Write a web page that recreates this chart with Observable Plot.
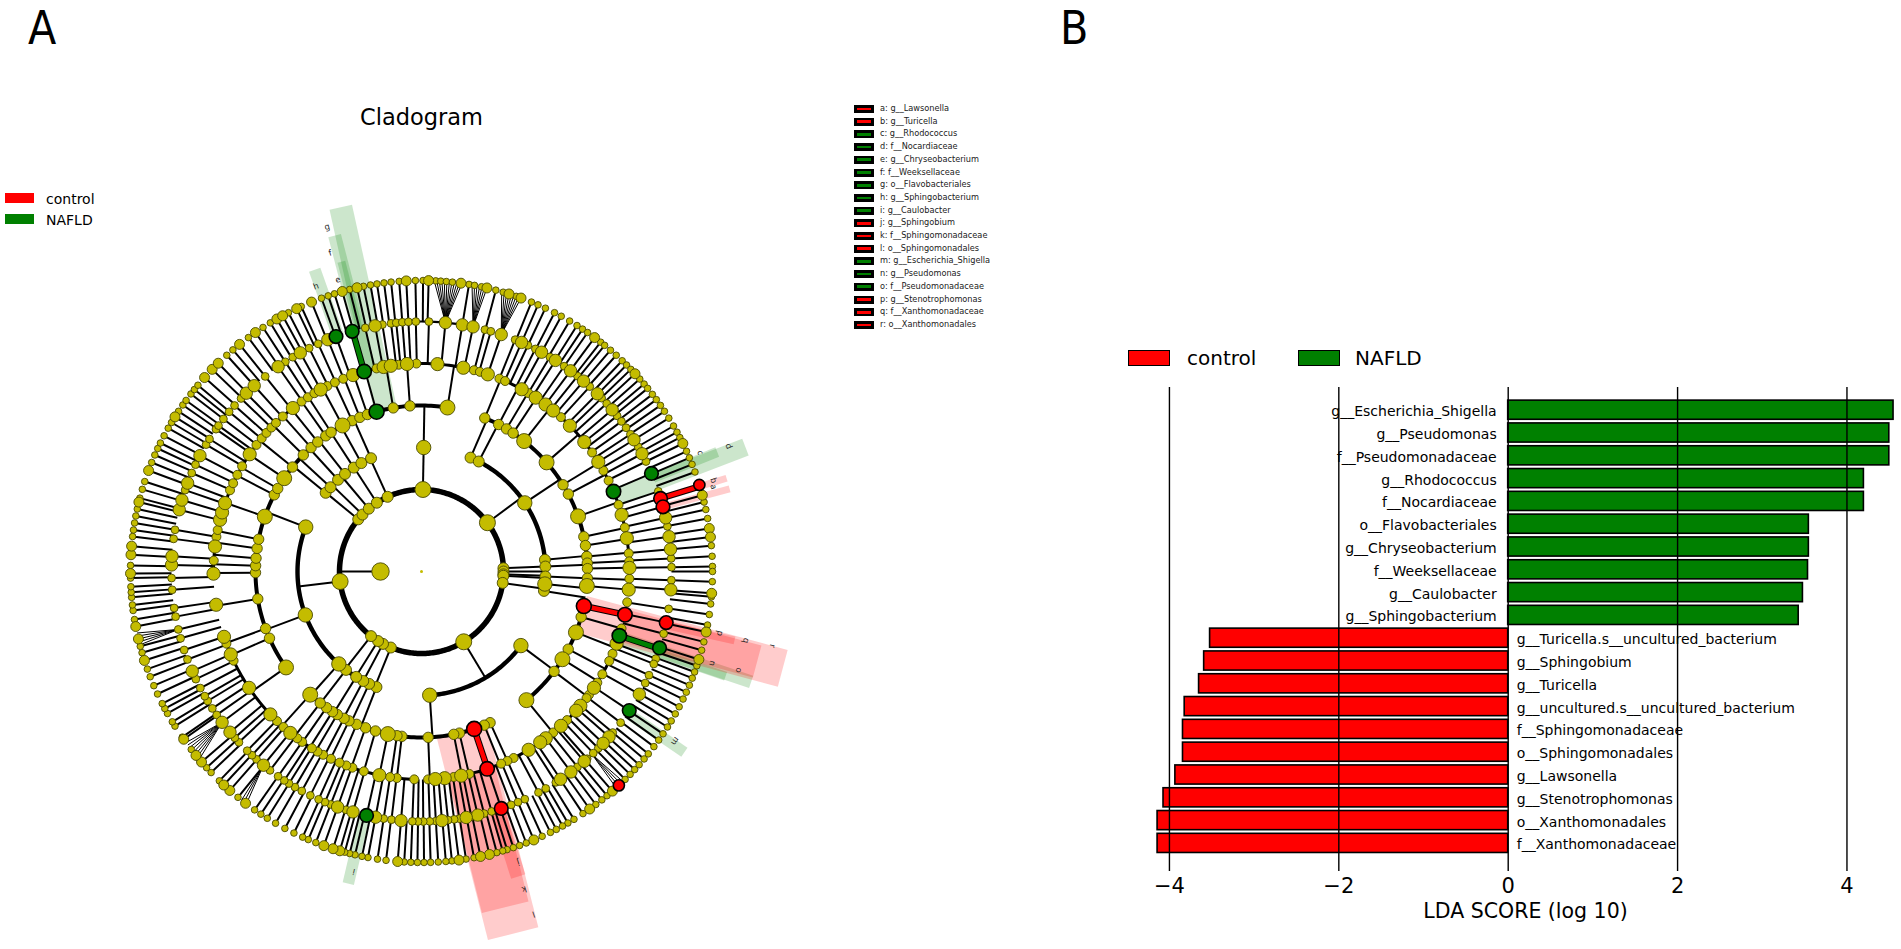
<!DOCTYPE html>
<html><head><meta charset="utf-8">
<style>
html,body{margin:0;padding:0;background:#fff;overflow:hidden}
body{width:1901px;height:949px;position:relative;font-family:"DejaVu Sans",sans-serif;color:#000}
.abs{position:absolute;white-space:nowrap;line-height:1.2}
#clade,#bars{position:absolute;top:0}
</style>
<script src="https://cdn.jsdelivr.net/npm/d3@7"></script>
<script src="https://cdn.jsdelivr.net/npm/@observablehq/plot@0.6"></script>
</head><body>
<div id="clade"></div><div id="bars"></div>
<script>
// ---------- panel B values ----------
const taxa = ["g__Escherichia_Shigella","g__Pseudomonas","f__Pseudomonadaceae","g__Rhodococcus","f__Nocardiaceae","o__Flavobacteriales","g__Chryseobacterium","f__Weeksellaceae","g__Caulobacter","g__Sphingobacterium","g__Turicella.s__uncultured_bacterium","g__Sphingobium","g__Turicella","g__uncultured.s__uncultured_bacterium","f__Sphingomonadaceae","o__Sphingomonadales","g__Lawsonella","g__Stenotrophomonas","o__Xanthomonadales","f__Xanthomonadaceae"];
const lda = [4.55,4.50,4.50,4.20,4.20,3.55,3.55,3.54,3.48,3.43,-3.52,-3.59,-3.65,-3.82,-3.84,-3.84,-3.93,-4.07,-4.14,-4.14];
const ldaTicks = [-4,-2,0,2,4];
const classes = ["control","NAFLD"];
const classColors = ["#ff0000","#008000"];

// ---------- panel A values: node angles (degrees clockwise from north) per ring ----------
const ringRadii = [41,82,124,166,208,250,291];
const ring0 = [270];
const ring1 = [1,53.5,87.7,90,92,93,98,149,202,208,212,218,263,309.5,314,320,327,335.6];
const ring1Large = [1,53.5,149,263];
const ring2 = [1,23.3,27.5,56.4,84.6,87.7,92.3,95.8,99,126.7,176.2,201.3,205,208,211.8,217.5,221.8,249.5,291,309.4,312.8,317.7,321.9,326.9,331,336];
const ring2Large = [1,56.4,95.8,126.7,176.2,221.8,249.5,291];
const ring3 = [9,22.4,27.7,30.8,33.5,38.2,48.9,58.5,62.2,70.6,77.9,81,84.8,87.1,89,92.3,95,102,105.9,111.5,117.9,121.9,127,140.8,155.6,157.8,161.5,166.8,168.8,177.7,186.8,188.5,191.7,196.1,199.7,203,205.9,207.8,210.5,212.4,214.9,217.6,222.1,234.7,246.3,249.9,260.5,269.6,272,274.6,278,281.2,289.3,297.5,300,304.2,309,314.6,318.3,321.3,324.8,327,331.6,335.3,338.2,341,344.3,350.2,356];
const ring3Large = [9,38.2,48.9,70.6,95,111.5,121.9,140.8,191.7,222.1,234.7,289.3,304.2,331.6];
const ring4 = [4.4,11.6,14.6,16.3,18.6,22,23.7,28.8,30.9,33.3,36.6,39.3,42.1,45.5,51.5,55.1,58.2,61,64.1,67.4,71.3,74.2,77.8,80.8,85,87.2,89,92,95,98.5,102,105.9,108,110.3,113.3,115.5,119.6,122.3,124,126.4,127.5,130.2,132,135.6,137.9,140.7,143.3,145.2,149,153.7,155.6,157.5,161.6,166.7,169,171.1,173.6,176.2,178.2,182,186.8,188.7,191.7,196.1,199.4,201.2,203.2,205.8,208.2,210,211.8,215,216.7,219.1,221.6,224,226.6,236,244.6,246.5,249.7,251.7,260.8,269.4,273,276.9,279.6,281.5,284.4,286.5,289.2,293,295.1,297.7,300.4,304.3,307.5,309.8,311.8,313.8,315.6,318.2,321.8,324.8,326.9,329,331,333.1,335.4,337.9,340.8,344,347.5,349.5,351.5,353.7,356,358.6];
const ring4Large = [4.4,11.6,18.6,28.8,33.3,36.6,39.3,45.5,51.5,58.2,74.2,80.8,89,95,110.3,124,130.2,132,137.9,143.3,145.2,149,169,173.6,176.2,191.7,219.1,226.6,236,246.5,251.7,260.8,269.4,276.9,284.4,286.5,289.2,304.3,321.8,331,340.8,349.5,351.5,356];
const ring5 = [1.7,5.5,9.4,11.9,14.7,16.1,18.6,22,23.6,25.2,27.1,28.7,30.9,32.4,34.8,36.6,38.6,40.4,42.3,44.7,46.1,47.8,49.7,51.5,53.1,54.9,56.7,58.2,60.1,61.9,63.9,66.9,71.3,73,75,77.6,79.6,82,84.9,87,89,92,94.2,98.6,101.8,104.4,107.8,110.4,111.7,114.5,116.5,119.4,123.8,127.2,130.1,131.4,133.4,135,136.6,138.5,139.4,141.4,143.3,146.2,147.5,150.2,152.1,155.6,157.3,159,161.4,163.7,165.5,167,168.5,169.7,171.3,172.5,173.9,175.3,176.7,178.1,179.6,180.8,182.1,184.7,186.9,188.7,190.6,192.7,195.9,197.6,199.6,201.3,202.7,204.3,206.4,208.6,210.4,212,213.3,215,217.3,219.2,221.3,222.7,224.2,226.9,228.3,230,232.9,235,236.8,238.8,240.1,242.2,244.5,246.5,249.4,251.7,254.5,256.6,259.6,261.6,265.8,268.5,271.5,273.5,277.5,279.6,284.3,286.6,289,290.7,293.2,295.3,297.6,300.5,302,304.7,305.7,307.6,309.7,311.6,313.8,315.5,318,321.3,325,327,329,331,333.3,335.6,338,340,343.9,347,349.3,351,353,354.2,355.6,357,358.7];
const ring5Large = [5.5,9.4,11.9,18.6,23.6,28.7,32.4,36.6,40.4,44.7,49.7,58.2,61.9,66.9,77.6,82,84.9,94.2,107.8,119.4,123.8,131.4,133.4,139.4,143.3,146.2,167,169.7,175.3,184.7,190.6,195.9,199.6,219.2,230,232.9,246.5,271.5,273.5,284.3,286.6,290.7,297.6,315.5,318,325,331,338,343.9,349.3];
const ring6 = [0.3,1.4,2.8,3.8,4.9,6.1,7.8,9.4,10.5,11.9,13,14.8,16.3,17.5,19,20,22.2,23.6,25.2,27.2,28.7,30.6,32.3,33.6,34.8,36.5,38,39,40.5,42,43.6,44.8,46,47.2,48.6,49.9,51,52.5,53.8,55.2,56.6,58.2,60,61.4,62.6,63.9,65.6,67,68.4,70,72.7,74.8,76.2,77.7,79.5,81.5,83.2,84.9,87,89,90,92,94.3,95,96.4,98.5,100.6,102,104,105.7,107.6,108.9,110.2,111.5,113,114.5,116,117.7,119.3,120.9,122.3,123.9,125.4,127,128.8,130.1,131.6,132.9,134.2,135.6,137.3,139,140.4,141.7,143.2,144.7,146.3,148.4,149.8,151,152.4,153.7,155.5,157.3,158.9,160.3,161.6,162.9,163.8,165,166.5,168.3,169.6,171.2,172.6,174,175.2,176.7,178.2,179.5,180.8,182.1,183.4,184.7,187,188.7,190.6,191.8,193.2,194.3,195.3,196.3,197.7,199.6,201.3,202.9,204.1,206,208,210.1,212,213.5,215,217.2,219.1,221.2,222.8,224,226.3,227.6,229.1,230.8,232.3,234.8,235.3,237.9,238.9,240.8,241.9,243,245.1,246.9,248.8,250.4,252.2,253.8,255.1,256.6,259.1,260.5,262.3,263.4,264.9,265.9,267,268.7,269.6,271.2,273.3,275,276.9,278.2,279.6,281,282.4,283.8,284.6,286.4,288,290.3,292,293.6,295,296.2,297.8,299.5,300.8,302.1,303.4,304.9,306,307.6,308.7,309.8,311.8,314,315.7,318,319.6,321.3,323.5,325.2,327,328.7,330.2,331.5,332.8,334.6,335.6,337.8,339.9,341.3,342.6,344.2,345.7,347.2,348.5,349.9,351.2,352.6,354,355.6,357,358.8];
const ring6Large = [1.4,7.8,13,17.5,20,36.5,47.2,63.9,72.7,74.8,81.5,83.2,94.3,102,107.6,139,144.7,157.3,166.5,168.3,172.6,184.7,196.3,197.7,199.6,217.2,221.2,222.8,229.1,230.8,234.8,252.2,256.6,259.1,269.6,273.3,275,283.8,290.3,302.1,311.8,314,315.7,321.3,325.2,330.2,331.5,334.6,337.8,344.2,347.2,357];
const rings = [ring0,ring1,ring2,ring3,ring4,ring5,ring6];
const ringsLarge = [ring0,ring1Large,ring2Large,ring3Large,ring4Large,ring5Large,ring6Large];
const ringDotSmall = [8.7,5.5,5.5,5.2,4.5,3.9,3.3];
const ringDotLarge = [8.7,8,7.2,7.5,6.6,6.2,5];

// sibling arcs: ring, first angle, last angle
const arcs = [[1,0,360],[2,23.3,99],[2,126.7,176.2],[2,201.3,291],[2,309.4,336],[3,22.4,95],[3,105.9,140.8],[3,155.6,222.1],[3,234.7,344.3],[3,344.3,369],[4,-1.4,18.6],[4,22,96],[4,105,178],[4,182,252],[4,269,358],[5,-5,11.9]];
const arcWidths = [0,5.5,4.4,4,3,2.2];

// fans of thin branches from a genus node to its species
const fanParents = [5.5,11.9,18.6,232.9,256.6,137,219.2];
const fanTips = [[2.5,3,3.5,4,4.5,5,5.5,6,6.5,7,7.5,8],[10,10.5,11,11.5,12,12.5,13],[16,16.5,17,17.5,18,18.5,19,19.5,20],[229.8,230.4,231,231.6,232.2,232.8,233.4,234],[255.4,256,256.6,257.2,257.8],[136.2,136.8,137.4,138],[217,217.6,218.2]];

// highlighted clades
const cladeLetters = ["a","b","c","d","e","f","g","h","i","j","k","l","m","n","o","p","q","r"];
const cladeNames = ["g__Lawsonella","g__Turicella","g__Rhodococcus","f__Nocardiaceae","g__Chryseobacterium","f__Weeksellaceae","o__Flavobacteriales","g__Sphingobacterium","g__Caulobacter","g__Sphingobium","f__Sphingomonadaceae","o__Sphingomonadales","g__Escherichia_Shigella","g__Pseudomonas","f__Pseudomonadaceae","g__Stenotrophomonas","f__Xanthomonadaceae","o__Xanthomonadales"];
const cladeClass = [0,0,1,1,1,1,1,1,1,0,0,0,1,1,1,0,0,0];
const stripAngle = [75,73,68,69,345.5,345.5,347.5,340.5,193.2,162.4,166,165.8,124.5,109,108.5,102.4,105,105];
const stripInner = [250,250,250,208,250,208,166,250,250,250,208,166,250,250,208,250,208,166];
const stripOuter = [319,319,319,347,320,347,373,320,320.6,320,346,373.6,319,321.6,347.6,320.5,347.5,374];
const stripWidth = [7,7,10,18,8,13,23,12,11.5,15,48,52,11,9,13,8,33,38];
const letterAngle = [73.8,72.7,66.9,67.8,344,344,344.7,339.7,192.7,161.6,162.1,161.9,123.8,107.5,107.3,101.7,102,102];
const letterRadius = [304,306,303,332,303.5,331.5,357.5,304,307.7,307,334,360.6,305,305,332.5,305,332,359];

const redNodes = [[3,102],[3,161.5],[4,102],[4,161.6],[5,73],[5,75],[5,101.8],[5,161.4],[6,72.7],[6,137.3]];
const greenNodes = [[3,344.3],[4,67.4],[4,108],[4,344],[5,66.9],[5,107.8],[5,123.8],[5,192.7],[5,340],[5,343.9]];
const redBranches = [[102,3,4],[161.5,3,4],[73,5,6]];
const greenBranches = [[108,4,5],[344,4,5]];

// ---------- polar helpers ----------
const px = (r,a) => r*Math.sin(a*Math.PI/180);
const py = (r,a) => r*Math.cos(a*Math.PI/180);

const cW = 830, cH = 949, cx = 421, cy = 571;
const strips = cladeLetters.map((l,i)=>({l,a:stripAngle[i],r1:stripInner[i],r2:stripOuter[i],w:stripWidth[i],c:cladeClass[i],la:letterAngle[i],lr:letterRadius[i]}));
const spokes = [];
// inner rings: each node sends one branch out to the sibling arc of its children
for (let k=0;k<=3;k++) for (const a of rings[k]) spokes.push({a,r1:ringRadii[k],r2:ringRadii[k+1]});
// outer rings are chains: each node carries its own branch back to the ring inside it
const inFan = a => fanTips.some(t=>a>=d3.min(t)-0.2 && a<=d3.max(t)+0.2);
for (const a of ring5) spokes.push({a,r1:ringRadii[4],r2:ringRadii[5]});
for (const a of ring6) if(!inFan(a)) spokes.push({a,r1:ringRadii[5],r2:ringRadii[6]});
const arcPts = [];
arcs.forEach(([k,a1,a2],id)=>{ for(let a=a1;;a=Math.min(a+1,a2)){arcPts.push({id,a,r:ringRadii[k],w:arcWidths[k]}); if(a>=a2)break;} });
const fanLinks = [];
fanParents.forEach((a,i)=>fanTips[i].forEach(t=>fanLinks.push({a,t})));

const colorOf = c => classColors[c];
const dotMarks = [];
for (let k=rings.length-1;k>=0;k--){
  const large = new Set(ringsLarge[k]);
  const small = rings[k].filter(a=>!large.has(a));
  const big = rings[k].filter(a=>large.has(a));
  const opts = r => ({x:a=>px(ringRadii[k],a),y:a=>py(ringRadii[k],a),r,fill:"#c4bc00",stroke:"#4a4a00",strokeWidth:0.9});
  dotMarks.push(Plot.dot(small,opts(ringDotSmall[k])));
  dotMarks.push(Plot.dot(big,opts(ringDotLarge[k])));
}
const colorDotR = [0,0,0,7.5,7.2,6.8,5.6];
const colored = (list,color)=>Plot.dot(list,{x:d=>px(ringRadii[d[0]],d[1]),y:d=>py(ringRadii[d[0]],d[1]),r:d=>colorDotR[d[0]],fill:color,stroke:"#000",strokeWidth:1.6});
const branch = (list,color,w)=>Plot.link(list,{x1:d=>px(ringRadii[d[1]],d[0]),y1:d=>py(ringRadii[d[1]],d[0]),x2:d=>px(ringRadii[d[2]],d[0]),y2:d=>py(ringRadii[d[2]],d[0]),stroke:color,strokeWidth:w});

const clade = Plot.plot({
  width:cW,height:cH,margin:0,
  x:{axis:null,domain:[-cx,cW-cx],range:[0,cW]},
  y:{axis:null,domain:[cy,cy-cH],range:[0,cH]},
  r:{type:"identity"},
  marks:[
    Plot.link(strips,{x1:d=>px(d.r1,d.a),y1:d=>py(d.r1,d.a),x2:d=>px(d.r2,d.a),y2:d=>py(d.r2,d.a),stroke:d=>colorOf(d.c),strokeOpacity:0.2,strokeWidth:"w"}),
    Plot.text(strips,{x:d=>px(d.lr,d.la),y:d=>py(d.lr,d.la),text:"l",rotate:"la",fontSize:8.5,fill:"#222"}),
    Plot.link(spokes,{x1:d=>px(d.r1,d.a),y1:d=>py(d.r1,d.a),x2:d=>px(d.r2,d.a),y2:d=>py(d.r2,d.a),stroke:"#000",strokeWidth:2}),
    Plot.link(fanLinks,{x1:d=>px(ringRadii[5],d.a),y1:d=>py(ringRadii[5],d.a),x2:d=>px(ringRadii[6],d.t),y2:d=>py(ringRadii[6],d.t),stroke:"#000",strokeWidth:1}),
    Plot.line(arcPts,{x:d=>px(d.r,d.a),y:d=>py(d.r,d.a),z:"id",stroke:"#000",strokeWidth:"w",curve:"linear"}),
    branch(redBranches,"#000",6.5),branch(greenBranches,"#000",6.5),
    branch(redBranches,"#ff0000",4.5),branch(greenBranches,"#008000",4.5),
    ...dotMarks,
    Plot.dot([0],{x:()=>0,y:()=>0,r:1.5,fill:"#c4bc00"}),
    colored(redNodes,"#ff0000"),colored(greenNodes,"#008000")
  ]
});
document.getElementById("clade").append(clade);
document.getElementById("clade").style.left="0px";

// ---------- panel B chart ----------
const bL = 1120, bT = 340, bW = 781, bH = 609, x0 = 1507.7, unit = 84.69;
const rows = taxa.map((t,i)=>({t,v:lda[i],c:lda[i]>=0?1:0}));
const bars = Plot.plot({
  width:bW,height:bH,marginLeft:0,marginRight:0,marginTop:47,marginBottom:78,
  style:{fontFamily:'"DejaVu Sans",sans-serif',background:"transparent",overflow:"visible"},
  x:{domain:[(bL-x0)/unit,(bL+bW-x0)/unit],range:[0,bW],label:null},
  y:{domain:taxa,range:[58.3,514.3],round:false,paddingInner:0.16,paddingOuter:0.08,axis:null},
  marks:[
    Plot.barX(rows,{x1:0,x2:"v",y:"t",fill:d=>colorOf(d.c),stroke:"#000",strokeWidth:1.6}),
    Plot.ruleX(ldaTicks,{stroke:"#000",strokeWidth:1.4}),
    Plot.text(rows.filter(d=>d.v>=0),{x:0,y:"t",text:"t",textAnchor:"end",dx:-11.5,dy:1.5,fontSize:14,fill:"#000"}),
    Plot.text(rows.filter(d=>d.v<0),{x:0,y:"t",text:"t",textAnchor:"start",dx:8.5,dy:1.5,fontSize:14,fill:"#000"}),
    Plot.axisX({ticks:ldaTicks,tickSize:0,tickPadding:7,fontSize:21,tickFormat:d=>d<0?"\u2212"+(-d):String(d),label:null,anchor:"bottom"}),
    Plot.text(["LDA SCORE (log 10)"],{frameAnchor:"bottom",dx:14.5,dy:46,text:d=>d,fontSize:20.5,fill:"#000"})
  ]
});
const barsHost = document.getElementById("bars");
barsHost.style.left = bL+"px"; barsHost.style.top = bT+"px";
barsHost.append(bars);

// ---------- text, legends ----------
function label(txt,left,top,size,extra){
  const d=document.createElement("div");d.className="abs";d.textContent=txt;
  d.style.cssText+=`left:${left}px;top:${top}px;font-size:${size}px;`+(extra||"");
  document.body.append(d);return d;
}
function box(left,top,w,h,fill,border){
  const d=document.createElement("div");d.style.cssText=`position:absolute;left:${left}px;top:${top}px;width:${w}px;height:${h}px;background:${fill};box-sizing:border-box;`+(border?`border:${border};`:"");
  document.body.append(d);
}
const cond='font-family:"DejaVu Sans Condensed","DejaVu Sans",sans-serif;';
label("A",28,1,46,cond);
label("B",1060,1,46,cond);
label("Cladogram",360,104,22.5);
classes.forEach((c,i)=>{
  box(5,193+i*20.5,29,10,classColors[i]);
  label(c,46,191+i*20.5,14);
  box(1128+i*170,350,42,16,classColors[i],"1.5px solid #000");
  label(c,1187+i*168,346,20);
});
cladeLetters.forEach((l,i)=>{
  const y=109+i*12.7;
  box(854,y-4,20,8,"#000");
  box(857,y-1.4,14,2.8,colorOf(cladeClass[i]));
  label(`${l}: ${cladeNames[i]}`,880,y-5,8.2,"color:#222;");
});
</script>
</body></html>
